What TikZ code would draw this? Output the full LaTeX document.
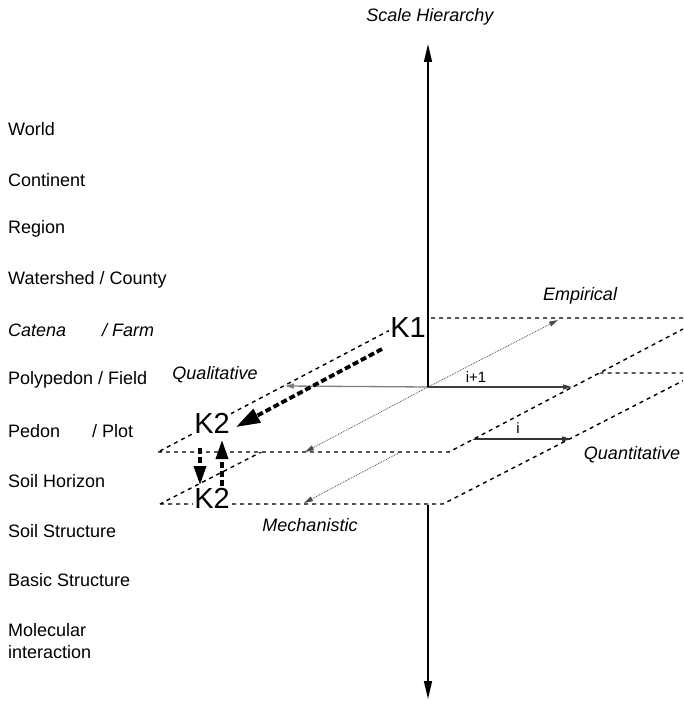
\documentclass[tikz,border=0pt]{standalone}
\usepackage{fontspec}
\setmainfont{Liberation Sans}
\usetikzlibrary{arrows.meta}
\begin{document}
\begin{tikzpicture}[x=1pt,y=-1pt,
  lbl/.style={anchor=west,inner sep=0pt,font=\fontsize{18}{22}\selectfont},
  ital/.style={inner sep=0pt,font=\fontsize{18}{22}\selectfont\itshape},
  small/.style={inner sep=0pt,font=\fontsize{15}{18}\selectfont},
  klbl/.style={inner sep=1pt,fill=white,font=\fontsize{29}{32}\selectfont},
  plane/.style={draw=black,fill=white,line width=1.4pt,dash pattern=on 4pt off 4pt},
  axisarrow/.style={line width=1.4pt,-{Triangle[length=18pt,width=8pt]}},
  solidarrow/.style={line width=1.3pt,-{Triangle[length=9pt,width=5pt]}},
  dotarrow/.style={line width=0.8pt,densely dotted,gray!60!black,-{Triangle[length=9pt,width=5pt]}},
  thickdash/.style={line width=3.8pt,dash pattern=on 6pt off 3pt,-{Triangle[length=24pt,width=15pt]}},
  vdash/.style={line width=3.4pt,dash pattern=on 6pt off 3pt,-{Triangle[length=19pt,width=12pt]}},
]
\useasboundingbox (0,0) rectangle (683,711);
\clip (0,0) rectangle (683,711);

% scale labels
\node[lbl] (world) at (8,129) {World};
\node[lbl] (cont) at (8,180) {Continent};
\node[lbl] (reg) at (8,229) {Region};
\node[lbl] (wat) at (8,280) {Watershed / County};
\node[lbl] (cat) at (8,330) {\makebox[94pt][l]{\itshape Catena}\itshape / Farm};
\node[lbl] (poly) at (8,380) {Polypedon / Field};
\node[lbl] (ped) at (8,431) {\makebox[84pt][l]{Pedon}/ Plot};
\node[lbl] (hor) at (8,481) {Soil Horizon};
\node[lbl] (sstr) at (8,531) {Soil Structure};
\node[lbl] (bstr) at (8,580) {Basic Structure};
\node[lbl,align=left] (mol) at (8,641) {Molecular\\interaction};

% lower plane (i)
\coordinate (LFL) at (160,504);
\coordinate (LFR) at (443,504);
\coordinate (LBR) at (698,373);
\coordinate (LBL) at (415,373);
\draw[plane] (LFL) -- (LFR) -- (LBR) -- (LBL) -- cycle;
\coordinate (LO) at (425,439);
\coordinate (LiTip) at (571,439);
\coordinate (LmTip) at (304,503);
\draw[solidarrow,black!80] (LO) -- (LiTip);
\draw[dotarrow] (LO) -- (LmTip);
\node[small] (li) at (518,428) {i};

% upper plane (i+1)
\coordinate (UFL) at (158,452);
\coordinate (UFR) at (449,452);
\coordinate (UBR) at (704,318);
\coordinate (UBL) at (413,318);
\draw[plane] (UFL) -- (UFR) -- (UBR) -- (UBL) -- cycle;
\coordinate (O) at (428,387);
\coordinate (qTip) at (285,386);
\coordinate (nTip) at (572,387);
\coordinate (eTip) at (558,320);
\coordinate (mTip) at (305,452);
\draw[solidarrow,gray] (O) -- (qTip);
\draw[solidarrow,black!75] (O) -- (nTip);
\draw[dotarrow] (O) -- (eTip);
\draw[dotarrow] (O) -- (mTip);
\node[small] (lip) at (476,377) {i+1};

% vertical scale axis
\coordinate (top) at (428,44);
\coordinate (axl) at (428,505);
\coordinate (bot) at (428,699);
\draw[axisarrow] (O) -- (top);
\draw[axisarrow] (axl) -- (bot);

% axis and direction labels
\node[ital] (sh) at (430,17) {Scale Hierarchy};
\node[ital] (emp) at (580,296) {Empirical};
\node[ital] (qual) at (215,375) {Qualitative};
\node[ital] (quan) at (632,455) {Quantitative};
\node[ital] (mech) at (310,525) {Mechanistic};

% K labels
\node[klbl] (K1) at (408,328) {K1};
\node[klbl] (K2a) at (212,423) {K2};
\node[klbl] (K2b) at (212,498) {K2};

% knowledge transfer arrows
\coordinate (k1s) at (382,349);
\coordinate (k2t) at (236,427);
\draw[thickdash] (k1s) -- (k2t);
\coordinate (dS) at (200,448);
\coordinate (dT) at (200,485);
\draw[vdash] (dS) -- (dT);
\coordinate (uS) at (222,486);
\coordinate (uT) at (222,440);
\draw[vdash] (uS) -- (uT);
\end{tikzpicture}
\end{document}
